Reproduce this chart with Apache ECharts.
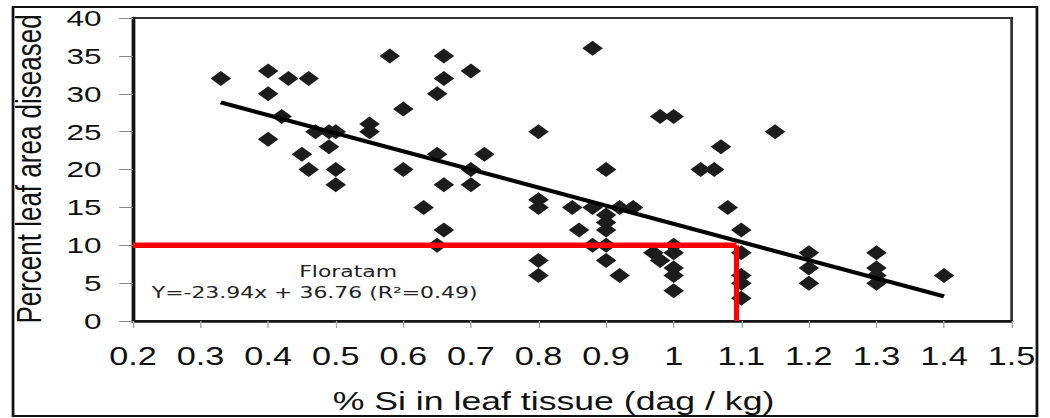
<!DOCTYPE html>
<html>
<head>
<meta charset="utf-8">
<script src="https://cdn.jsdelivr.net/npm/echarts@6/dist/echarts.min.js"></script>
<style>
  html, body { margin: 0; padding: 0; background: #fff; overflow: hidden; }
  #wrap { width: 1050px; height: 418px; overflow: hidden; }
  /* the figure is laid out at 766px and widened to 1050px, so lettering and markers come out wide */
  #chart { width: 766px; height: 418px; transform: scaleX(1.370757); transform-origin: 0 0; }
</style>
</head>
<body>
<div id="wrap"><div id="chart"></div></div>
<script>
// % Si in leaf tissue (dag / kg) for each sampled plot
const siPct = [
  0.33, 0.40, 0.43, 0.46, 0.40, 0.42, 0.40, 0.47, 0.49, 0.50, 0.49, 0.45, 0.46, 0.50, 0.50, 0.55, 0.55,
  0.58, 0.66, 0.70, 0.66, 0.65, 0.60, 0.65, 0.72, 0.60, 0.70, 0.66, 0.70, 0.63, 0.66, 0.65,
  0.88, 0.80, 0.90, 0.80, 0.80, 0.80, 0.80, 0.85, 0.88, 0.86, 0.88, 0.90, 0.90, 0.90, 0.90, 0.90, 0.92, 0.94, 0.92,
  0.98, 1.00, 0.97, 0.98, 1.00, 1.00, 1.00, 1.00, 1.00,
  1.04, 1.06, 1.07, 1.08, 1.15, 1.10, 1.10, 1.10, 1.10, 1.10,
  1.20, 1.20, 1.20, 1.30, 1.30, 1.30, 1.30, 1.40
];
// Percent leaf area diseased for the same plots
const diseasedPct = [
  32, 33, 32, 32, 30, 27, 24, 25, 25, 25, 23, 22, 20, 20, 18, 26, 25,
  35, 35, 33, 32, 30, 28, 22, 22, 20, 20, 18, 18, 15, 12, 10,
  36, 25, 20, 16, 15, 8, 6, 15, 15, 12, 10, 14, 13, 12, 10, 8, 15, 15, 6,
  27, 27, 9, 8, 10, 9, 7, 6, 4,
  20, 20, 23, 15, 25, 12, 9, 6, 5, 3,
  9, 7, 5, 9, 7, 6, 5, 6
];

// Floratam linear fit: Y = slope * x + intercept
const fitCoef = [-23.94, 36.76];
const fitR2 = 0.49;

// 10 % disease threshold and the Si level where it is reached
const thresholdDisease = [10];
const thresholdSi = [1.093];

// axis ticks
const xTicks = [0.2, 0.3, 0.4, 0.5, 0.6, 0.7, 0.8, 0.9, 1.0, 1.1, 1.2, 1.3, 1.4, 1.5];
const yTicks = [0, 5, 10, 15, 20, 25, 30, 35, 40];

const points = siPct.map((x, i) => [x, diseasedPct[i]]);
const xMinData = Math.min(...siPct);
const xMaxData = Math.max(...siPct);
const fit = x => fitCoef[0] * x + fitCoef[1];

const chart = echarts.init(document.getElementById('chart'), null, { renderer: 'svg' });

const sans = 'Liberation Sans, Arial, sans-serif';
const labelFont = 'DejaVu Sans, Verdana, sans-serif';

chart.setOption({
  animation: false,
  backgroundColor: '#fff',
  textStyle: { fontFamily: sans },
  grid: {
    left: 97, right: 28, top: 18, bottom: 97,
    show: true, borderColor: '#333', borderWidth: 2, backgroundColor: 'transparent'
  },
  xAxis: {
    type: 'value',
    min: xTicks[0], max: xTicks[xTicks.length - 1],
    interval: +(xTicks[1] - xTicks[0]).toFixed(2),
    axisLine: { show: true, onZero: false, lineStyle: { color: '#111', width: 2.5 } },
    axisTick: { show: true, length: 7, lineStyle: { color: '#aaa', width: 1 } },
    axisLabel: {
      fontSize: 25, fontFamily: sans, color: '#111', margin: 23,
      formatter: v => String(+(+v).toFixed(1))
    },
    splitLine: { show: false }
  },
  yAxis: {
    type: 'value',
    min: yTicks[0], max: yTicks[yTicks.length - 1],
    interval: yTicks[1] - yTicks[0],
    axisLine: { show: true, lineStyle: { color: '#111', width: 2.5 } },
    axisTick: { show: true, length: 10, lineStyle: { color: '#888', width: 1 } },
    axisLabel: { fontSize: 23, fontFamily: sans, color: '#111', margin: 23 },
    splitLine: { show: false }
  },
  graphic: [
    {
      type: 'rect', silent: true, z: 0,
      shape: { x: 9.5, y: 7, width: 747, height: 409 },
      style: { fill: 'none', stroke: '#111', lineWidth: 2 }
    },
    {
      type: 'text', silent: true, x: 21.4, y: 169, rotation: Math.PI / 2,
      style: {
        text: 'Percent leaf area diseased', fontSize: 26, fontFamily: sans, fill: '#111',
        align: 'center', verticalAlign: 'middle', textAlign: 'center', textVerticalAlign: 'middle'
      }
    },
    {
      type: 'text', silent: true, x: 403.8, y: 401.5,
      style: {
        text: '% Si in leaf tissue (dag / kg)', fontSize: 26, fontFamily: sans, fill: '#111',
        align: 'center', verticalAlign: 'middle', textAlign: 'center', textVerticalAlign: 'middle'
      }
    },
    {
      type: 'text', silent: true, x: 254, y: 271.2,
      style: {
        text: 'Floratam', fontSize: 16, fontFamily: labelFont, fill: '#222',
        align: 'center', verticalAlign: 'middle', textAlign: 'center', textVerticalAlign: 'middle'
      }
    },
    {
      type: 'text', silent: true, x: 110.7, y: 292.2,
      style: {
        text: 'Y=' + fitCoef[0].toFixed(2) + 'x + ' + fitCoef[1].toFixed(2) + ' (R\u00B2=' + fitR2.toFixed(2) + ')',
        fontSize: 16, fontFamily: labelFont, fill: '#222',
        align: 'left', verticalAlign: 'middle', textAlign: 'left', textVerticalAlign: 'middle'
      }
    }
  ],
  series: [
    {
      name: 'Floratam',
      type: 'scatter',
      symbol: 'diamond',
      symbolSize: 15,
      itemStyle: { color: '#1c1c1c', opacity: 1 },
      data: points,
      z: 2
    },
    {
      name: 'fit',
      type: 'line',
      symbol: 'none',
      lineStyle: { color: '#000', width: 4 },
      data: [[xMinData, fit(xMinData)], [xMaxData, fit(xMaxData)]],
      z: 3
    },
    {
      name: 'threshold',
      type: 'line',
      symbol: 'none',
      lineStyle: { color: '#ff0000', width: 5.5 },
      data: [[xTicks[0], thresholdDisease[0]], [thresholdSi[0], thresholdDisease[0]]],
      z: 4
    },
    {
      name: 'threshold Si',
      type: 'line',
      symbol: 'none',
      lineStyle: { color: '#ff0000', width: 3.8 },
      data: [[thresholdSi[0], thresholdDisease[0]], [thresholdSi[0], yTicks[0]]],
      z: 4
    }
  ]
});
</script>
</body>
</html>
